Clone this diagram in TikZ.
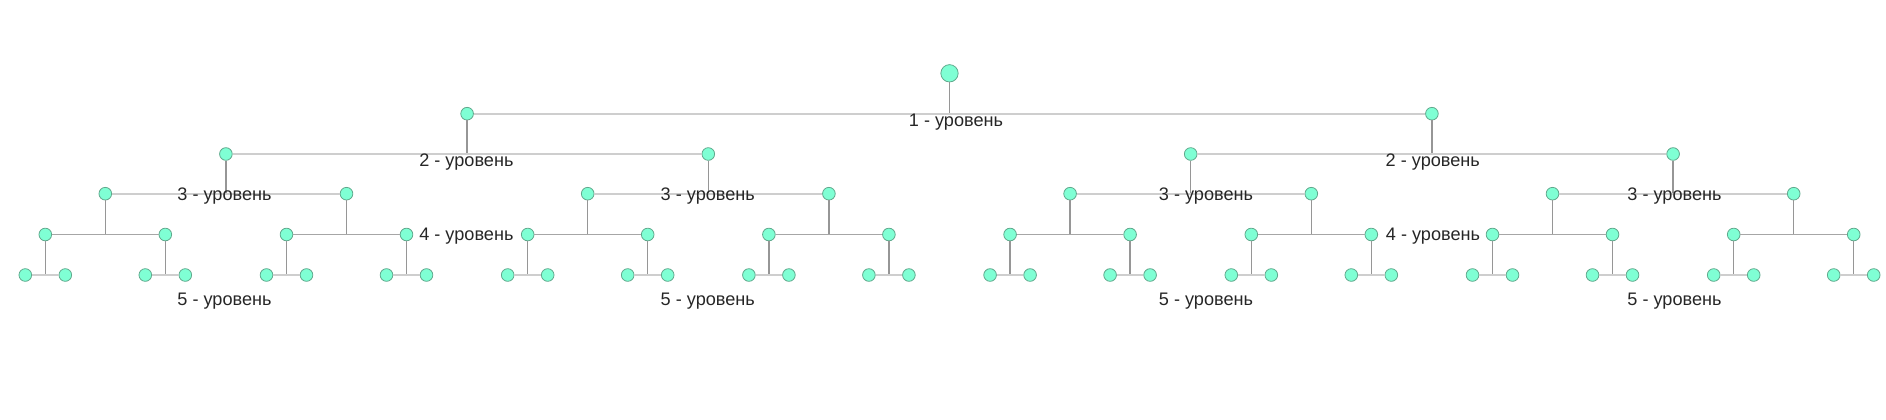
\documentclass[tikz,border=0pt]{standalone}
\usepackage{fontspec}
\setmainfont{Liberation Sans}
\usepackage{xcolor}
\definecolor{leaf}{RGB}{127,255,212}
\definecolor{rim}{RGB}{96,168,140}
\definecolor{stem}{RGB}{150,150,150}
\definecolor{bar}{RGB}{206,206,206}
\newlength{\dotsize}
\setlength{\dotsize}{9.5pt}
\newlength{\topsize}
\setlength{\topsize}{13pt}
\tikzset{
  dot/.style={fill=leaf,draw=rim,line width=0.6pt,circle,inner sep=0pt,minimum size=\dotsize},
  vline/.style={draw=stem,line width=1pt},
  hline/.style={draw=bar,line width=1.4pt},
  midline/.style={draw=stem!85,line width=1.1pt},
  lvl/.style={anchor=base,font=\fontsize{13.6}{16}\selectfont,text=black!85}
}

\begin{document}
\begin{tikzpicture}[x=0.75pt,y=-0.75pt]
\useasboundingbox (0,0) rectangle (1886,419);
% root and first level
\node[dot,minimum size=\topsize] (r) at (949.5,73.3){};
\node[dot] (a1) at (467.1,113.7){};
\node[dot] (a2) at (1431.9,113.7){};
\draw[vline](r)--(r |- a1);
\draw[hline](a1)--(a2);
% second level
\foreach \i/\x in {1/225.9,2/708.3,3/1190.7,4/1673.1}
  \node[dot] (b\i) at (\x,154){};
\draw[vline](a1)--(a1 |- b1);
\draw[hline](b1)--(b2);
\draw[vline](a2)--(a2 |- b3);
\draw[hline](b3)--(b4);
% third level
\foreach \i in {1,...,8}
  \node[dot] (c\i) at ({105.3+241.2*(\i-1)},193.7){};
\foreach \i in {1,...,4}{
  \pgfmathtruncatemacro{\j}{2*\i-1}
  \pgfmathtruncatemacro{\k}{2*\i}
  \draw[vline](b\i)--(b\i |- c\j);
  \draw[hline](c\j)--(c\k);
}
% fourth level
\foreach \i in {1,...,8}{
  \pgfmathsetmacro{\x}{105.3+241.2*(\i-1)}
  \pgfmathtruncatemacro{\j}{2*\i-1}
  \pgfmathtruncatemacro{\k}{2*\i}
  \node[dot] (d\j) at ({\x-60},234.5){};
  \node[dot] (d\k) at ({\x+60},234.5){};
  \draw[vline](c\i)--(c\i |- d\j);
  \draw[midline](d\j)--(d\k);
}
% fifth level
\foreach \i in {1,...,16}{
  \pgfmathtruncatemacro{\j}{2*\i-1}
  \pgfmathtruncatemacro{\k}{2*\i}
  \path (d\i) ++(-20,40.5) node[dot] (e\j){};
  \path (d\i) ++(20,40.5) node[dot] (e\k){};
  \draw[vline](d\i)--(d\i |- e\j);
  \draw[hline](e\j)--(e\k);
}
% level captions
\node[lvl] (t1) at (956,126.7) {1 - уровень};
\node[lvl] (t2a) at (466.4,166.7) {2 - уровень};
\node[lvl] (t2b) at (1432.8,166.7) {2 - уровень};
\node[lvl] (t4a) at (466.4,240) {4 - уровень};
\node[lvl] (t4b) at (1433,240) {4 - уровень};
\foreach \n/\x in {a/224.5,b/707.8,c/1206,d/1674.5}{
  \node[lvl] (t3\n) at (\x,200.7) {3 - уровень};
  \node[lvl] (t5\n) at (\x,305.5) {5 - уровень};
}
\end{tikzpicture}
\end{document}
